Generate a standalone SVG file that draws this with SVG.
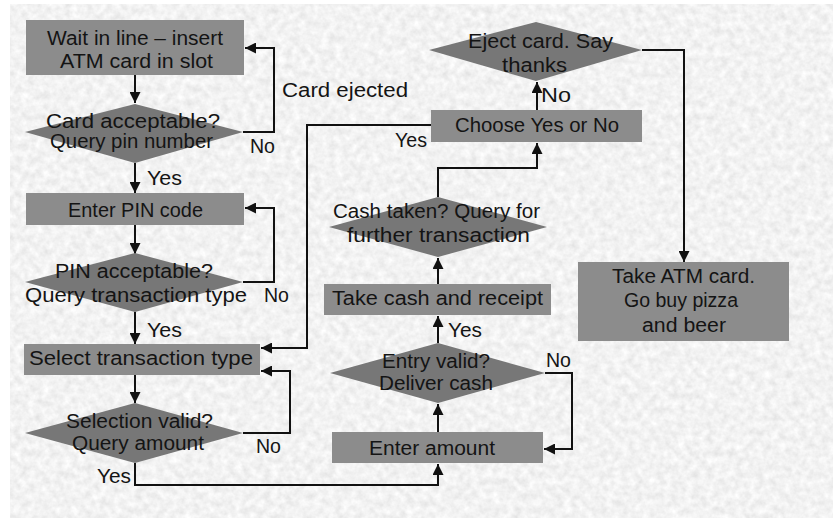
<svg xmlns="http://www.w3.org/2000/svg" width="840" height="518" viewBox="0 0 840 518">
  <defs>
    <filter id="tex" x="0" y="0" width="100%" height="100%">
      <feTurbulence type="fractalNoise" baseFrequency="0.14" numOctaves="3" seed="7"/>
      <feColorMatrix type="matrix" values="0.3 0 0 0 0.74  0.3 0 0 0 0.74  0.3 0 0 0 0.74  0 0 0 0 1"/>
    </filter>
    <marker id="ah" viewBox="0 0 10 10" refX="10" refY="5" markerWidth="11" markerHeight="11" markerUnits="userSpaceOnUse" orient="auto">
      <path d="M0,0 L10,5 L0,10 z" fill="#111"/>
    </marker>
    <style>
      .box { fill: #8c8c8c; }
      .dia { fill: #777777; }
      .t { font-family: "Liberation Sans", Arial, sans-serif; font-size: 20px; fill: #141414; text-anchor: middle; }
      .lbl { font-family: "Liberation Sans", Arial, sans-serif; font-size: 20px; fill: #141414; }
      .c { fill: none; stroke: #111; stroke-width: 2; marker-end: url(#ah); }
    </style>
  </defs>

  <rect x="0" y="0" width="840" height="518" fill="#ffffff"/>
  <rect x="10" y="4" width="823" height="514" fill="#dedede" filter="url(#tex)"/>

  <g id="connectors">
    <path class="c" d="M135,75 V103"/>
    <path class="c" d="M243,132 H274 V48 H245"/>
    <path class="c" d="M135,163 V193"/>
    <path class="c" d="M243,282 H274 V208 H245"/>
    <path class="c" d="M135,225 V254"/>
    <path class="c" d="M135,312 V344"/>
    <path class="c" d="M431,125 H307 V348 H261"/>
    <path class="c" d="M243,433 H290 V371 H261"/>
    <path class="c" d="M135,375 V403"/>
    <path class="c" d="M135,463 V485 H438 V464"/>
    <path class="c" d="M438,432 V404"/>
    <path class="c" d="M545,373 H572 V449 H544"/>
    <path class="c" d="M438,343 V316"/>
    <path class="c" d="M438,284 V258"/>
    <path class="c" d="M438,197 V168 H537 V143"/>
    <path class="c" d="M537,110 V82"/>
    <path class="c" d="M642,50 H684 V262"/>
  </g>

  <g id="labels">
    <text class="lbl" x="282" y="97" textLength="126" lengthAdjust="spacingAndGlyphs">Card ejected</text>
    <text class="lbl" x="250" y="153" textLength="25" lengthAdjust="spacingAndGlyphs">No</text>
    <text class="lbl" x="147" y="185" textLength="35" lengthAdjust="spacingAndGlyphs">Yes</text>
    <text class="lbl" x="264" y="302" textLength="25" lengthAdjust="spacingAndGlyphs">No</text>
    <text class="lbl" x="147" y="337" textLength="35" lengthAdjust="spacingAndGlyphs">Yes</text>
    <text class="lbl" x="256" y="453" textLength="25" lengthAdjust="spacingAndGlyphs">No</text>
    <text class="lbl" x="97" y="483" textLength="34" lengthAdjust="spacingAndGlyphs">Yes</text>
    <text class="lbl" x="395" y="147" textLength="32" lengthAdjust="spacingAndGlyphs">Yes</text>
    <text class="lbl" x="541" y="102" textLength="30" lengthAdjust="spacingAndGlyphs">No</text>
    <text class="lbl" x="448" y="337" textLength="34" lengthAdjust="spacingAndGlyphs">Yes</text>
    <text class="lbl" x="546" y="367" textLength="25" lengthAdjust="spacingAndGlyphs">No</text>
  </g>

  <g id="n-wait">
    <rect class="box" x="26" y="20" width="218" height="55"/>
    <text class="t" x="135" y="45" textLength="176" lengthAdjust="spacingAndGlyphs">Wait in line – insert</text>
    <text class="t" x="136.5" y="68" textLength="153" lengthAdjust="spacingAndGlyphs">ATM card in slot</text>
  </g>

  <g id="n-card-ok">
    <polygon class="dia" points="25,132 135,104 243,132 135,163"/>
    <text class="t" x="133" y="128" textLength="174" lengthAdjust="spacingAndGlyphs">Card acceptable?</text>
    <text class="t" x="131.5" y="148" textLength="163" lengthAdjust="spacingAndGlyphs">Query pin number</text>
  </g>

  <g id="n-pin">
    <rect class="box" x="26" y="193" width="218" height="32"/>
    <text class="t" x="135.5" y="217" textLength="135" lengthAdjust="spacingAndGlyphs">Enter PIN code</text>
  </g>

  <g id="n-pin-ok">
    <polygon class="dia" points="25,282 135,253 243,282 135,312"/>
    <text class="t" x="134" y="278" textLength="158" lengthAdjust="spacingAndGlyphs">PIN acceptable?</text>
    <text class="t" x="136" y="302" textLength="222" lengthAdjust="spacingAndGlyphs">Query transaction type</text>
  </g>

  <g id="n-select">
    <rect class="box" x="24" y="344" width="236" height="31"/>
    <text class="t" x="141" y="365" textLength="224" lengthAdjust="spacingAndGlyphs">Select transaction type</text>
  </g>

  <g id="n-sel-ok">
    <polygon class="dia" points="25,433 135,403 243,433 135,463"/>
    <text class="t" x="139.5" y="428" textLength="147" lengthAdjust="spacingAndGlyphs">Selection valid?</text>
    <text class="t" x="138" y="450" textLength="132" lengthAdjust="spacingAndGlyphs">Query amount</text>
  </g>

  <g id="n-amount">
    <rect class="box" x="332" y="432" width="211" height="31"/>
    <text class="t" x="432" y="455" textLength="126" lengthAdjust="spacingAndGlyphs">Enter amount</text>
  </g>

  <g id="n-entry-ok">
    <polygon class="dia" points="330,373 438,343 545,373 438,403"/>
    <text class="t" x="436" y="368" textLength="108" lengthAdjust="spacingAndGlyphs">Entry valid?</text>
    <text class="t" x="436" y="390" textLength="114" lengthAdjust="spacingAndGlyphs">Deliver cash</text>
  </g>

  <g id="n-take-cash">
    <rect class="box" x="324" y="284" width="227" height="31"/>
    <text class="t" x="437.5" y="305" textLength="211" lengthAdjust="spacingAndGlyphs">Take cash and receipt</text>
  </g>

  <g id="n-cash-taken">
    <polygon class="dia" points="329,227 438,197 547,227 438,257"/>
    <text class="t" x="436.5" y="218" textLength="207" lengthAdjust="spacingAndGlyphs">Cash taken? Query for</text>
    <text class="t" x="438.5" y="242" textLength="183" lengthAdjust="spacingAndGlyphs">further transaction</text>
  </g>

  <g id="n-choose">
    <rect class="box" x="431" y="110" width="211" height="32"/>
    <text class="t" x="537" y="132" textLength="164" lengthAdjust="spacingAndGlyphs">Choose Yes or No</text>
  </g>

  <g id="n-eject">
    <polygon class="dia" points="429,50 536,22 642,50 536,81"/>
    <text class="t" x="540.5" y="48" textLength="145" lengthAdjust="spacingAndGlyphs">Eject card. Say</text>
    <text class="t" x="534.5" y="72" textLength="65" lengthAdjust="spacingAndGlyphs">thanks</text>
  </g>

  <g id="n-take-card">
    <rect class="box" x="578" y="262" width="211" height="79"/>
    <text class="t" x="683.5" y="283" textLength="143" lengthAdjust="spacingAndGlyphs">Take ATM card.</text>
    <text class="t" x="681" y="307" textLength="114" lengthAdjust="spacingAndGlyphs">Go buy pizza</text>
    <text class="t" x="684" y="332" textLength="84" lengthAdjust="spacingAndGlyphs">and beer</text>
  </g>
</svg>
